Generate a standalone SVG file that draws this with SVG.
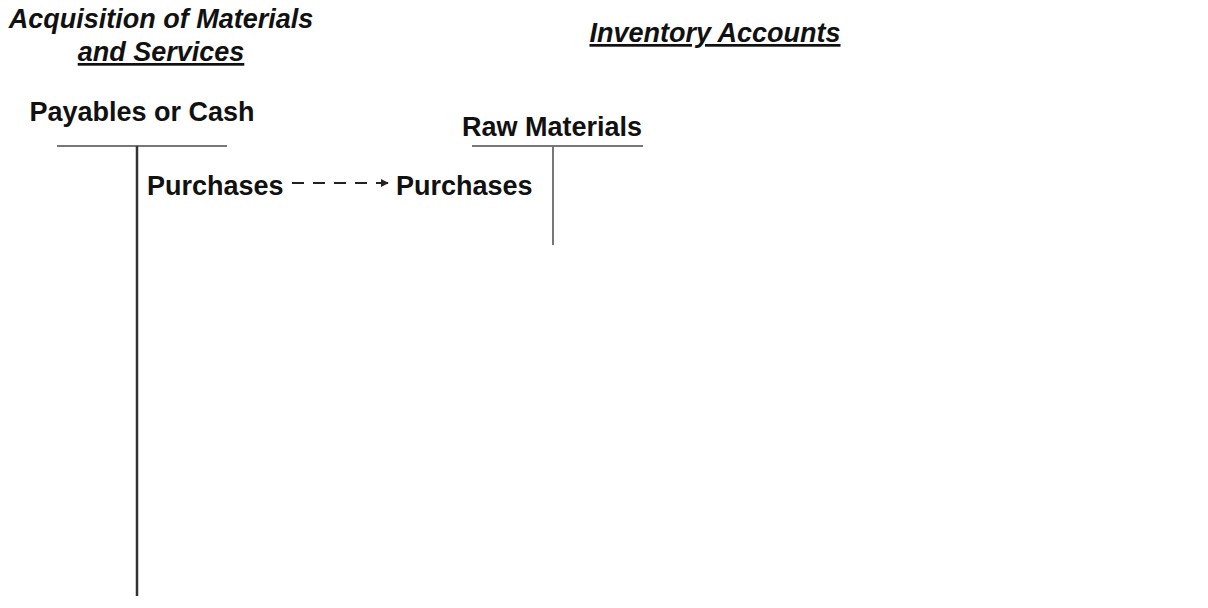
<svg xmlns="http://www.w3.org/2000/svg" width="1208" height="608" viewBox="0 0 1208 608">
<style>
text{font-family:"Liberation Sans",Arial,sans-serif;font-weight:bold;font-size:27px;fill:#111}
.title{font-style:italic}
.u{text-decoration:underline}
.rule{stroke:#777;stroke-width:2}
.stem{stroke:#333;stroke-width:2.5}
</style>
<defs>
<marker id="ah" viewBox="0 0 10 10" refX="9" refY="5" markerWidth="4" markerHeight="4" orient="auto">
<path d="M0,0 L10,5 L0,10 z" fill="#222"/>
</marker>
</defs>
<rect width="1208" height="608" fill="#fff"/>
<g id="title-acquisition">
<text class="title" x="161" y="28" text-anchor="middle">Acquisition of Materials</text>
<text class="title u" x="161" y="61" text-anchor="middle">and Services</text>
</g>
<g id="title-inventory">
<text class="title u" x="715" y="42" text-anchor="middle">Inventory Accounts</text>
</g>
<g id="account-payables">
<text x="142" y="121" text-anchor="middle">Payables or Cash</text>
<line class="rule" x1="57" y1="146" x2="227" y2="146"/>
<line class="stem" x1="137" y1="146" x2="137" y2="596"/>
<text x="147" y="195">Purchases</text>
</g>
<g id="account-raw-materials">
<text x="552" y="136" text-anchor="middle">Raw Materials</text>
<line class="rule" x1="472" y1="146" x2="643" y2="146"/>
<line class="rule" x1="553" y1="146" x2="553" y2="245"/>
<text x="396" y="195">Purchases</text>
</g>
<g id="connectors">
<line x1="292" y1="183" x2="388" y2="183" stroke="#222" stroke-width="2" stroke-dasharray="12,9" marker-end="url(#ah)"/>
</g>
</svg>
